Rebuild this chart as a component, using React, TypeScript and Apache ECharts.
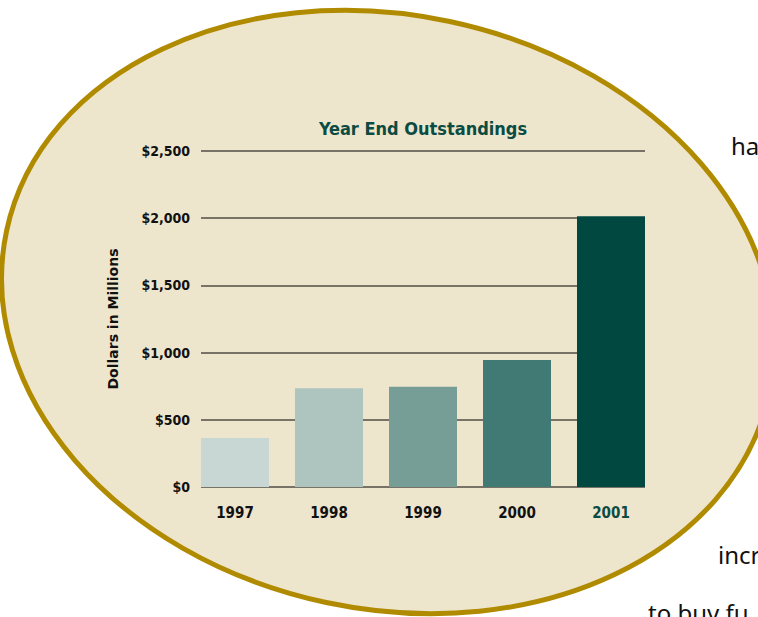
import React, { useEffect, useRef } from "react";
import * as echarts from "echarts";

const categories = ["1997", "1998", "1999", "2000", "2001"];
const values = [365, 735, 745, 945, 2015];
const barColors = ["#C8D7D4", "#ADC4BF", "#779E96", "#417A74", "#014840"];
const yTicks = [0, 500, 1000, 1500, 2000, 2500];
const titleText = "Year End Outstandings";
const yAxisName = "Dollars in Millions";
const sideTexts = ["ha", "incr", "to buy fu"];

export default function App() {
  const ref = useRef<HTMLDivElement>(null);
  useEffect(() => {
    if (!ref.current) return;
    const chart = echarts.init(ref.current, undefined, { renderer: "svg" });
    const fmt = (v: number) => "$" + v.toLocaleString("en-US");
    const labelFont = "'DejaVu Sans Condensed', 'Liberation Sans Narrow', sans-serif";
    chart.setOption({
      animation: false,
      backgroundColor: "#ffffff",
      title: {
        text: titleText,
        left: 418,
        top: 114,
        textAlign: "center",
        textStyle: { color: "#0B4B42", fontFamily: labelFont, fontWeight: "bold", fontSize: 18 },
      },
      graphic: [
        {
          type: "ellipse",
          x: 388,
          y: 312,
          rotation: -0.21,
          z: -10,
          shape: { cx: 0, cy: 0, rx: 390, ry: 297 },
          style: { fill: "#EEE5CD", stroke: "#B08B00", lineWidth: 5 },
        },
        {
          type: "text",
          x: 731,
          y: 157,
          style: { text: sideTexts[0], fill: "#111", font: "24px 'Noto Sans', sans-serif", textVerticalAlign: "bottom" },
        },
        {
          type: "text",
          x: 718,
          y: 566,
          style: { text: sideTexts[1], fill: "#111", font: "24px 'Noto Sans', sans-serif", textVerticalAlign: "bottom" },
        },
        {
          type: "text",
          x: 648,
          y: 624,
          style: { text: sideTexts[2], fill: "#111", font: "24px 'Noto Sans', sans-serif", textVerticalAlign: "bottom" },
        },
      ],
      grid: [
        { left: 201, right: 113, top: 151, bottom: 130 },
        { left: 188, right: 100, top: 151, bottom: 130 },
      ],
      xAxis: [
        { type: "value", gridIndex: 0, show: false, min: 0, max: 1 },
        {
          type: "category",
          gridIndex: 1,
          data: categories,
          axisLine: { show: false },
          axisTick: { show: false },
          axisLabel: {
            margin: 18,
            fontFamily: labelFont,
            fontWeight: "bold",
            fontSize: 15,
            color: (_v: string, i: number) => (i === categories.length - 1 ? "#0B4B42" : "#111"),
          },
        },
      ],
      yAxis: [
        {
          type: "value",
          gridIndex: 0,
          min: yTicks[0],
          max: yTicks[yTicks.length - 1],
          interval: 500,
          name: yAxisName,
          nameLocation: "middle",
          nameGap: 81,
          nameTextStyle: { fontFamily: "'DejaVu Sans', sans-serif", fontWeight: "bold", fontSize: 14, color: "#111" },
          axisLine: { show: false },
          axisTick: { show: false },
          axisLabel: {
            margin: 11,
            formatter: fmt,
            fontFamily: labelFont,
            fontWeight: "bold",
            fontSize: 14,
            color: "#111",
          },
          splitLine: { show: true, lineStyle: { color: "#4f4d45", width: 1.5 } },
        },
        { type: "value", gridIndex: 1, min: 0, max: 2500, show: false },
      ],
      series: [
        {
          type: "bar",
          xAxisIndex: 1,
          yAxisIndex: 1,
          barWidth: 68,
          data: values.map((v, i) => ({ value: v, itemStyle: { color: barColors[i] } })),
        },
      ],
    });
    return () => chart.dispose();
  }, []);
  return <div ref={ref} style={{ position: "fixed", left: 0, top: 0, width: 758, height: 617 }} />;
}
